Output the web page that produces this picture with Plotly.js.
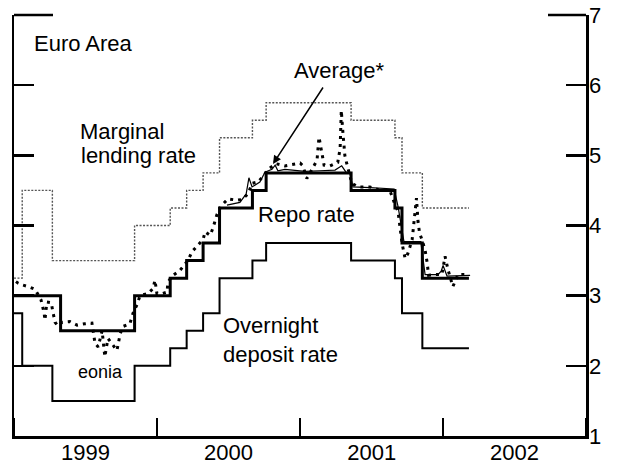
<!DOCTYPE html>
<html>
<head>
<meta charset="utf-8">
<script src="https://cdn.plot.ly/plotly-3.0.1.min.js"></script>
<style>
  html, body { margin: 0; padding: 0; background: #fff; }
  #chart { width: 622px; height: 469px; }
</style>
</head>
<body>
<div id="chart"></div>
<script>
// ---- Data ----
const lendingDates = ['1999-01-01','1999-01-22','1999-04-09','1999-11-05','2000-02-04','2000-03-17','2000-04-28','2000-06-09','2000-09-01','2000-10-06','2001-05-11','2001-08-31','2001-09-18','2001-11-09','2002-03-08'];
const lendingRate  = [3.25, 4.5, 3.5, 4.0, 4.25, 4.5, 4.75, 5.25, 5.5, 5.75, 5.5, 5.25, 4.75, 4.25, 4.25];

const repoDates = ['1999-01-01','1999-04-30','1999-11-05','2000-02-04','2000-03-17','2000-04-28','2000-06-09','2000-09-01','2000-10-06','2001-05-11','2001-08-31','2001-09-18','2001-11-09','2002-03-08'];
const repoRate  = [3.0, 2.5, 3.0, 3.25, 3.5, 3.75, 4.25, 4.5, 4.75, 4.5, 4.25, 3.75, 3.25, 3.25];

const depositDates = ['1999-01-01','1999-01-22','1999-04-09','1999-11-05','2000-02-04','2000-03-17','2000-04-28','2000-06-09','2000-09-01','2000-10-06','2001-05-11','2001-08-31','2001-09-18','2001-11-09','2002-03-08'];
const depositRate  = [2.75, 2.0, 1.5, 2.0, 2.25, 2.5, 2.75, 3.25, 3.5, 3.75, 3.5, 3.25, 2.75, 2.25, 2.25];

const eoniaDates = ['1999-01-06','1999-01-11','1999-01-24','1999-02-06','1999-02-24','1999-03-11','1999-03-19','1999-03-21','1999-03-26','1999-04-06','1999-04-11','1999-04-16','1999-04-23','1999-05-04','1999-05-24','1999-06-11','1999-07-01','1999-07-19','1999-07-27','1999-08-04','1999-08-14','1999-08-21','1999-08-29','1999-09-08','1999-09-21','1999-09-29','1999-10-06','1999-10-24','1999-11-01','1999-11-11','1999-11-19','1999-12-09','1999-12-22','1999-12-27','2000-01-01','2000-01-14','2000-01-27','2000-01-29','2000-02-09','2000-02-29','2000-03-13','2000-03-20','2000-03-31','2000-04-15','2000-04-28','2000-05-03','2000-05-16','2000-05-23','2000-06-02','2000-06-13','2000-07-01','2000-07-24','2000-08-05','2000-08-21','2000-08-31','2000-09-15','2000-09-28','2000-10-11','2000-10-31','2000-11-23','2000-12-14','2001-01-01','2001-01-08','2001-01-18','2001-01-31','2001-02-13','2001-02-18','2001-02-26','2001-03-03','2001-03-18','2001-04-07','2001-04-13','2001-04-16','2001-04-20','2001-04-25','2001-04-30','2001-05-13','2001-05-29','2001-06-28','2001-07-24','2001-08-18','2001-08-31','2001-09-08','2001-09-18','2001-09-26','2001-10-03','2001-10-14','2001-10-17','2001-10-25','2001-10-29','2001-11-02','2001-11-08','2001-11-16','2001-11-21','2001-11-25','2001-12-11','2001-12-29','2002-01-06','2002-01-14','2002-01-26','2002-02-08','2002-03-06'];
const eoniaRate  = [3.20,3.18,3.15,3.13,3.09,2.94,2.75,2.65,2.91,2.90,2.75,2.62,2.57,2.62,2.63,2.58,2.60,2.61,2.32,2.27,2.50,2.13,2.39,2.32,2.22,2.45,2.56,2.60,2.75,2.87,3.00,3.03,3.10,3.22,3.03,3.03,3.05,3.19,3.28,3.36,3.46,3.50,3.63,3.72,3.80,3.91,3.86,3.96,4.15,4.28,4.38,4.36,4.37,4.45,4.60,4.62,4.70,4.80,4.88,4.85,4.87,4.89,4.85,4.67,4.80,4.93,5.26,5.03,4.86,4.85,4.90,5.10,5.64,5.33,5.00,4.88,4.60,4.55,4.55,4.50,4.50,4.30,4.20,3.75,3.53,3.60,3.80,3.96,4.39,4.05,3.89,3.80,3.65,3.48,3.29,3.30,3.30,3.56,3.36,3.13,3.30,3.30];

const avgDates = ['2000-06-28','2000-07-06','2000-07-31','2000-08-16','2000-08-23','2000-08-31','2000-09-10','2000-09-20','2000-10-03','2000-10-21','2000-10-29','2000-11-05','2000-11-23','2000-12-19','2001-01-13','2001-02-20','2001-03-31','2001-04-17','2001-04-28','2001-05-08','2001-05-16','2001-06-28','2001-08-29','2001-09-08','2001-09-23','2001-11-05','2001-11-16','2001-12-19','2001-12-27','2002-01-01','2002-01-06','2002-01-11','2002-03-11'];
const avgRate  = [4.29,4.30,4.33,4.45,4.68,4.55,4.58,4.62,4.76,4.80,4.86,4.78,4.80,4.78,4.77,4.78,4.79,4.85,4.76,4.74,4.55,4.54,4.52,4.27,3.77,3.77,3.30,3.30,3.35,3.43,3.35,3.28,3.29];

const yTicks = [1, 2, 3, 4, 5, 6, 7];

// ---- helpers: pixel -> paper ----
const PL = 14, PR = 586, PT = 15, PB = 436;
const px = x => (x - PL) / (PR - PL);
const py = y => (PB - y) / (PB - PT);

const FONT = 'Liberation Sans, Arial, Helvetica, sans-serif';

const traces = [
  { x: lendingDates, y: lendingRate, mode: 'lines', line: { shape: 'hv', color: '#555', width: 1.4, dash: '2px,1.5px' }, hoverinfo: 'skip' },
  { x: depositDates, y: depositRate, mode: 'lines', line: { shape: 'hv', color: '#000', width: 2 }, hoverinfo: 'skip' },
  { x: avgDates, y: avgRate, mode: 'lines', line: { color: '#000', width: 1.2 }, hoverinfo: 'skip' },
  { x: repoDates, y: repoRate, mode: 'lines', line: { shape: 'hv', color: '#000', width: 3 }, hoverinfo: 'skip' },
  { x: eoniaDates, y: eoniaRate, mode: 'lines', line: { color: '#000', width: 3, dash: '3px,5px' }, hoverinfo: 'skip' }
];

const ann = (text, x, y, size) => ({
  text: text, xref: 'paper', yref: 'paper', x: px(x), y: py(y),
  xanchor: 'left', yanchor: 'middle', align: 'left', showarrow: false,
  font: { family: FONT, size: size || 22, color: '#000' }
});

const layout = {
  width: 622, height: 469,
  margin: { l: PL, r: 622 - PR, t: PT, b: 469 - PB, pad: 0 },
  paper_bgcolor: '#fff', plot_bgcolor: '#fff',
  showlegend: false,
  font: { family: FONT, size: 22, color: '#000' },
  xaxis: {
    type: 'date', range: ['1999-01-01', '2003-01-01'],
    tick0: '1999-01-01', dtick: 'M12', tickformat: '%Y', ticklabelmode: 'period',
    ticks: 'inside', ticklen: 18, tickwidth: 2, tickcolor: '#000', ticklabelstandoff: -5,
    showline: true, linewidth: 2.5, linecolor: '#000',
    showgrid: false, zeroline: false, fixedrange: true,
    tickfont: { family: FONT, size: 22, color: '#000' }
  },
  yaxis: {
    range: [1, 7], side: 'right', tickvals: yTicks, ticktext: yTicks.map(String),
    ticks: 'inside', ticklen: 20, tickwidth: 2.5, tickcolor: '#000', ticklabelstandoff: -4,
    showline: true, linewidth: 2.5, linecolor: '#000', mirror: 'ticks',
    showgrid: false, zeroline: false, fixedrange: true,
    tickfont: { family: FONT, size: 22, color: '#000' }
  },
  shapes: [
    { type: 'line', xref: 'paper', yref: 'paper', x0: 0, x1: px(53), y0: 1, y1: 1, line: { color: '#000', width: 2.5 } },
    { type: 'line', xref: 'paper', yref: 'paper', x0: px(548), x1: 1, y0: 1, y1: 1, line: { color: '#000', width: 2.5 } }
  ],
  annotations: [
    ann('Euro Area', 32, 43),
    ann('Marginal', 78, 131),
    ann('lending rate', 79, 155),
    ann('Average*', 292, 70),
    ann('Repo rate', 256, 214),
    ann('Overnight<br>deposit rate', 221, 340),
    ann('eonia', 76, 372, 18),
    { text: '', xref: 'paper', yref: 'paper', x: px(273), y: py(164), ax: 51, ay: -78,
      showarrow: true, arrowhead: 2, arrowsize: 1.1, arrowwidth: 1.5, arrowcolor: '#000', standoff: 0 }
  ]
};

Plotly.newPlot('chart', traces, layout, { staticPlot: true, displayModeBar: false });
</script>
</body>
</html>
